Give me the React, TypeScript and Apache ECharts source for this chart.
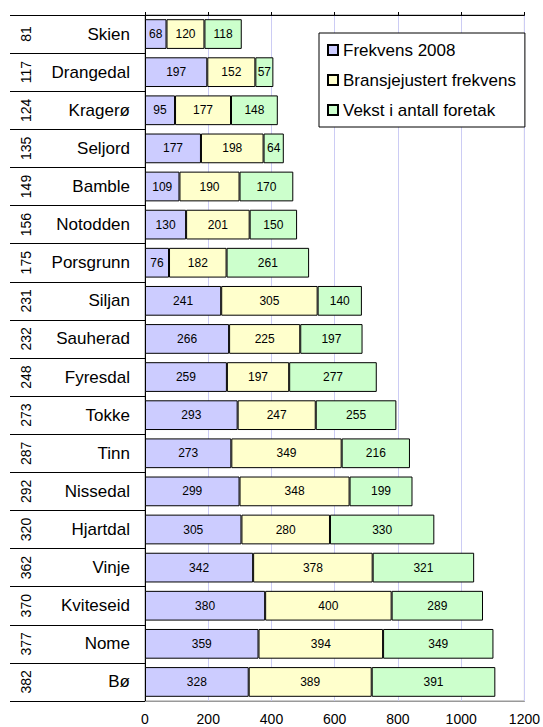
import React, { useEffect, useRef } from "react";
import * as echarts from "echarts";

const municipalities = [
  "Skien", "Drangedal", "Kragerø", "Seljord", "Bamble", "Notodden", "Porsgrunn", "Siljan", "Sauherad",
  "Fyresdal", "Tokke", "Tinn", "Nissedal", "Hjartdal", "Vinje", "Kviteseid", "Nome", "Bø",
];
const ranks = [
  "81", "117", "124", "135", "149", "156", "175", "231", "232",
  "248", "273", "287", "292", "320", "362", "370", "377", "382",
];
const frekvens2008 = [68, 197, 95, 177, 109, 130, 76, 241, 266, 259, 293, 273, 299, 305, 342, 380, 359, 328];
const bransjejustert = [120, 152, 177, 198, 190, 201, 182, 305, 225, 197, 247, 349, 348, 280, 378, 400, 394, 389];
const vekst = [118, 57, 148, 64, 170, 150, 261, 140, 197, 277, 255, 216, 199, 330, 321, 289, 349, 391];
const seriesNames = ["Frekvens 2008", "Bransjejustert frekvens", "Vekst i antall foretak"];
const seriesColors = ["#CCCCFF", "#FFFFCC", "#CCFFCC"];

const FONT = "'Liberation Sans', Arial, sans-serif";

export default function App() {
  const ref = useRef<HTMLDivElement>(null);
  useEffect(() => {
    if (!ref.current) return;
    const chart = echarts.init(ref.current, undefined, { renderer: "svg" });
    const values = [frekvens2008, bransjejustert, vekst];
    chart.setOption({
      animation: false,
      backgroundColor: "#fff",
      textStyle: { fontFamily: FONT },
      grid: {
        left: 145, right: 13, top: 15, bottom: 26,
        show: true, borderColor: "#999", borderWidth: 1, backgroundColor: "transparent",
      },
      legend: {
        orient: "vertical",
        left: 319,
        top: 33,
        padding: [8, 9, 8, 8],
        itemWidth: 10,
        itemHeight: 10,
        itemGap: 12,
        itemTextGap: 7,
        backgroundColor: "#fff",
        borderColor: "#000",
        borderWidth: 1,
        borderRadius: 0,
        icon: "rect",
        textStyle: { fontSize: 17, lineHeight: 18, color: "#000", fontFamily: FONT },
        data: seriesNames,
      },
      xAxis: [
        {
          type: "value", position: "bottom", min: 0, max: 1200, interval: 200,
          axisLine: { show: true, lineStyle: { color: "#999", width: 1 } },
          axisTick: { show: false },
          axisLabel: {
            fontSize: 14, color: "#000", margin: 11, fontFamily: FONT,
            formatter: (v: number) => String(v),
          },
          splitLine: { show: true, lineStyle: { color: "#CCCCF4", width: 1 } },
        },
        {
          type: "value", position: "top", min: 0, max: 1200, interval: 200,
          axisLine: { show: true, lineStyle: { color: "#000", width: 1 } },
          axisTick: { show: true, length: 3, inside: false, lineStyle: { color: "#000" } },
          axisLabel: { show: false },
          splitLine: { show: false },
        },
      ],
      yAxis: [
        {
          type: "category", inverse: true, position: "left", data: municipalities,
          axisLine: { show: true, lineStyle: { color: "#000", width: 1 } },
          axisTick: { show: true, length: 135, interval: 0, alignWithLabel: false, lineStyle: { color: "#000", width: 1 } },
          axisLabel: { interval: 0, fontSize: 17, color: "#000", margin: 15, fontFamily: FONT },
          splitLine: { show: false },
        },
        {
          type: "category", inverse: true, position: "left", data: ranks,
          axisLine: { show: false },
          axisTick: { show: false },
          axisLabel: { interval: 0, rotate: 90, fontSize: 14, color: "#000", margin: 112, fontFamily: FONT },
          splitLine: { show: false },
        },
      ],
      series: seriesNames.map((name, i) => ({
        name,
        type: "bar",
        stack: "total",
        xAxisIndex: 0,
        yAxisIndex: 0,
        barCategoryGap: "22%",
        data: values[i],
        itemStyle: { color: seriesColors[i], borderColor: "#000", borderWidth: 1 },
        label: {
          show: true, position: "inside", color: "#000", fontSize: 12, fontFamily: FONT,
        },
      })),
    });
    return () => chart.dispose();
  }, []);
  return <div ref={ref} style={{ position: "fixed", left: 0, top: 0, width: 543, height: 727 }} />;
}
